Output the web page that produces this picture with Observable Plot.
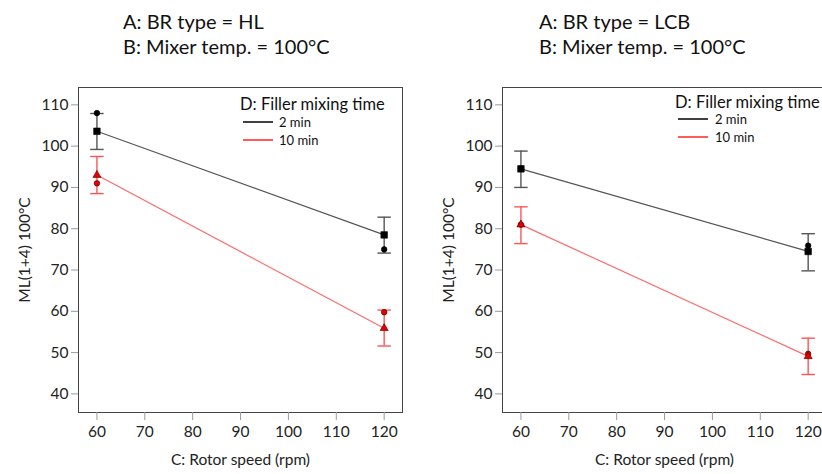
<!DOCTYPE html>
<html><head><meta charset="utf-8">
<script src="https://cdn.jsdelivr.net/npm/d3@7"></script>
<script src="https://cdn.jsdelivr.net/npm/@observablehq/plot@0.6"></script>
<style>
body{margin:0;background:#fff;overflow:hidden;font-family:Lato,"Open Sans",sans-serif;}
#wrap{position:relative;width:822px;height:474px;overflow:hidden;}
.panel{position:absolute;top:0;width:440px;height:474px;}
.title{position:absolute;top:9px;font-size:20px;line-height:25px;color:#111;white-space:nowrap;}
.legend{position:absolute;color:#111;white-space:nowrap;}
.legend .lt{font-size:16.5px;line-height:15px;}
</style></head>
<body><div id="wrap"></div>
<script>
// ---- data ----
const panelTitles = ["A: BR type = HL", "A: BR type = LCB"];
const subtitle = "B: Mixer temp. = 100°C";
const legendTitle = "D: Filler mixing time";
const seriesNames = ["2 min", "10 min"];
const rotorSpeed = [60, 120];
const xTicks = [60, 70, 80, 90, 100, 110, 120];
const yTicks = [40, 50, 60, 70, 80, 90, 100, 110];
const xLabel = "C: Rotor speed (rpm)";
const yLabel = "ML(1+4) 100°C";

// HL panel
const hl2Mean = [103.6, 78.5];
const hl2Low = [99.2, 74.1];
const hl2High = [107.9, 82.8];
const hl2Point = [108.0, 75.0];
const hl10Mean = [93.0, 55.9];
const hl10Low = [88.5, 51.6];
const hl10High = [97.5, 60.3];
const hl10Point = [91.0, 59.8];

// LCB panel
const lcb2Mean = [94.5, 74.5];
const lcb2Low = [90.0, 69.8];
const lcb2High = [98.8, 78.8];
const lcb2Point = [94.6, 75.9];
const lcb10Mean = [81.0, 49.1];
const lcb10Low = [76.4, 44.7];
const lcb10High = [85.3, 53.5];
const lcb10Point = [81.0, 49.7];

// ---- build ----
function rows(mean, low, high, point) {
  return rotorSpeed.map((x, i) => ({x, mean: mean[i], low: low[i], high: high[i], point: point[i]}));
}
const panelData = [
  [rows(hl2Mean, hl2Low, hl2High, hl2Point), rows(hl10Mean, hl10Low, hl10High, hl10Point)],
  [rows(lcb2Mean, lcb2Low, lcb2High, lcb2Point), rows(lcb10Mean, lcb10Low, lcb10High, lcb10Point)]
];
const styles = [
  {line: "#555", bar: "#555", fill: "#000", stroke: "#000", sym: "square", r: 3.7},
  {line: "#ff6a6a", bar: "#ff5555", fill: "#e60000", stroke: "#400", sym: "triangle", r: 3.0}
];
const cap = {draw(ctx, size) { const w = Math.sqrt(size); ctx.moveTo(-w, 0); ctx.lineTo(w, 0); }};

const layout = [
  {left: 0, title: 123, lg: {x: 240, y: 97, lx: 243, tx: 279, y1: 122, y2: 140}},
  {left: 424, title: 115, lg: {x: 251, y: 95, lx: 254, tx: 291, y1: 119, y2: 137}}
];

const wrap = document.getElementById("wrap");
panelData.forEach((series, p) => {
  const L = layout[p];
  const panel = document.createElement("div");
  panel.className = "panel";
  panel.style.left = L.left + "px";
  const t = document.createElement("div");
  t.className = "title";
  t.style.left = L.title + "px";
  t.innerHTML = panelTitles[p] + "<br>" + subtitle;
  panel.appendChild(t);

  const marks = [Plot.frame({stroke: "#444"})];
  series.forEach((data, s) => {
    const st = styles[s];
    marks.push(
      Plot.line(data, {x: "x", y: "mean", stroke: st.line, strokeWidth: 1.2}),
      Plot.ruleX(data, {x: "x", y1: "low", y2: "high", stroke: st.bar, strokeWidth: 1.4}),
      Plot.dot(data, {x: "x", y: "low", symbol: cap, r: 3.8, stroke: st.bar, fill: "none", strokeWidth: 1.4}),
      Plot.dot(data, {x: "x", y: "high", symbol: cap, r: 3.8, stroke: st.bar, fill: "none", strokeWidth: 1.4})
    );
  });
  series.forEach((data, s) => {
    const st = styles[s];
    marks.push(
      Plot.dot(data, {x: "x", y: "point", symbol: "circle", r: 2.8, fill: st.fill, stroke: st.stroke, strokeWidth: 0.6}),
      Plot.dot(data, {x: "x", y: "mean", symbol: st.sym, r: st.r, fill: st.fill, stroke: st.stroke, strokeWidth: 0.6})
    );
  });
  marks.push(
    Plot.axisX({ticks: xTicks, tickSize: 8, tickPadding: 5, stroke: "#999", fill: "#222", fontSize: 15.5,
      label: xLabel, labelAnchor: "center", labelOffset: 52, labelArrow: "none"}),
    Plot.axisY({ticks: yTicks, tickSize: 7, tickPadding: 3, stroke: "#999", fill: "#222", fontSize: 15.5,
      label: yLabel, labelAnchor: "center", labelOffset: 60, labelArrow: "none"})
  );
  const chart = Plot.plot({
    width: 420, height: 404,
    marginLeft: 78, marginRight: 18, marginTop: 17, marginBottom: 62,
    style: {fontFamily: "Lato, 'Open Sans', sans-serif", fontSize: "16.5px", color: "#222", background: "transparent", overflow: "visible"},
    x: {domain: [56.15, 123.83]},
    y: {domain: [35.5, 114.2]},
    marks
  });
  chart.style.position = "absolute";
  chart.style.top = "70px";
  chart.style.left = "0px";
  panel.appendChild(chart);

  const lg = document.createElement("div");
  lg.className = "legend";
  lg.style.left = L.lg.x + "px";
  lg.style.top = L.lg.y + "px";
  lg.innerHTML = `<div class="lt">${legendTitle}</div>`;
  panel.appendChild(lg);
  seriesNames.forEach((name, s) => {
    const yy = s === 0 ? L.lg.y1 : L.lg.y2;
    const svg = document.createElementNS("http://www.w3.org/2000/svg", "svg");
    svg.setAttribute("width", 30); svg.setAttribute("height", 4);
    svg.style.position = "absolute";
    svg.style.left = L.lg.lx + "px";
    svg.style.top = (yy - 2) + "px";
    svg.innerHTML = `<line x1="0" x2="30" y1="2" y2="2" stroke="${s === 0 ? "#111" : "#ff3333"}" stroke-width="1.6"/>`;
    panel.appendChild(svg);
    const tx = document.createElement("div");
    tx.className = "legend";
    tx.style.left = L.lg.tx + "px";
    tx.style.top = (yy - 6.5) + "px";
    tx.style.fontSize = "13px";
    tx.style.lineHeight = "13px";
    tx.textContent = name;
    panel.appendChild(tx);
  });
  wrap.appendChild(panel);
});
</script></body></html>
